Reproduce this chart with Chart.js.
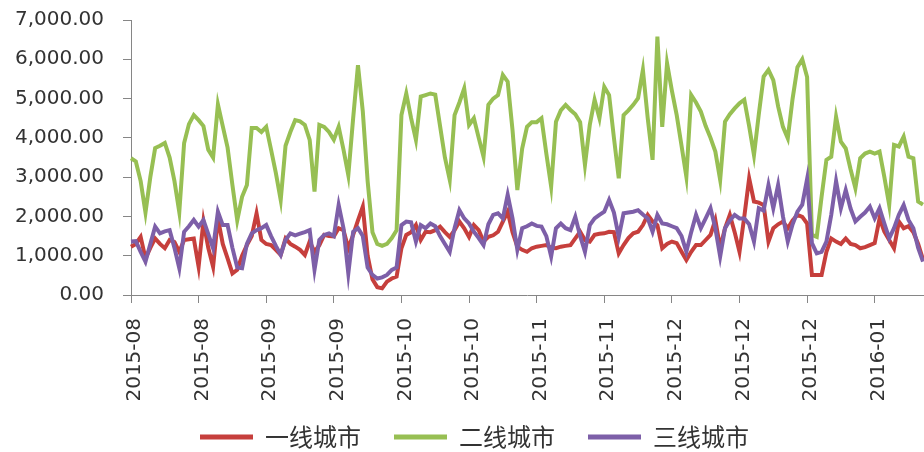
<!DOCTYPE html>
<html>
<head>
<meta charset="utf-8">
<script src="https://cdn.jsdelivr.net/npm/chart.js@4/dist/chart.umd.min.js"></script>
<style>
  html, body { margin: 0; padding: 0; background: #fff; }
  #wrap { width: 924px; height: 452px; position: relative; }
</style>
</head>
<body>
<div id="wrap"><canvas id="cityChart"></canvas></div>
<script>
// x axis shows one label every 14 daily points
const tickEvery = 14;
const tickLabels = ['2015-08', '2015-08', '2015-09', '2015-09', '2015-10', '2015-10',
                    '2015-11', '2015-11', '2015-12', '2015-12', '2015-12', '2016-01'];

const seriesNames = ['一线城市', '二线城市', '三线城市'];
const seriesColors = ['#c63f3c', '#97bf53', '#7d5fa8'];

const tier1 = [
    1230, 1300, 1480, 930, 1200, 1440, 1300, 1190, 1400, 1350, 1100, 1400, 1420, 1440,
    720, 1870, 1200, 720, 1950, 1300, 930, 550, 640, 1000, 1270, 1500, 2080, 1400,
    1300, 1270, 1150, 1020, 1440, 1300, 1230, 1150, 1020, 1360, 1100, 1270, 1530, 1500,
    1490, 1700, 1650, 1190, 1530, 1900, 2250, 1000, 400, 200, 170, 340, 420, 470,
    1190, 1530, 1600, 1780, 1400, 1610, 1600, 1650, 1740, 1600, 1480, 1650, 1870, 1700,
    1480, 1780, 1650, 1360, 1480, 1520, 1610, 1870, 2120, 1600, 1230, 1150, 1100, 1190,
    1230, 1250, 1270, 1200, 1190, 1230, 1250, 1270, 1440, 1610, 1400, 1360, 1530, 1560,
    1570, 1610, 1600, 1060, 1270, 1450, 1570, 1610, 1780, 2040, 1870, 1780, 1190, 1300,
    1360, 1320, 1100, 890, 1100, 1270, 1270, 1400, 1530, 1910, 1200, 1700, 2040, 1600,
    1100, 2000, 2970, 2380, 2350, 2290, 1360, 1700, 1800, 1870, 1700, 1900, 2040, 1990,
    1820, 510, 510, 510, 1100, 1440, 1360, 1300, 1440, 1300, 1270, 1190, 1220, 1270,
    1320, 1950, 1610, 1400, 1190, 1870, 1700, 1750, 1600, 1300, 900
];

const tier2 = [
    3480, 3400, 2900, 2100, 3000, 3740, 3800, 3870, 3500, 2900, 2110, 3870, 4350, 4580,
    4450, 4300, 3700, 3500, 4850, 4300, 3750, 2800, 1900, 2500, 2800, 4250, 4250, 4150,
    4280, 3700, 3100, 2420, 3800, 4150, 4450, 4420, 4330, 3950, 2630, 4330, 4280, 4150,
    3950, 4280, 3700, 3050, 4500, 5850, 4670, 2900, 1600, 1300, 1250, 1300, 1450, 1650,
    4580, 5130, 4500, 3950, 5050, 5090, 5130, 5100, 4300, 3500, 2930, 4580, 4900, 5260,
    4330, 4500, 4000, 3520, 4840, 5000, 5090, 5600, 5430, 4200, 2670, 3730, 4280, 4400,
    4400, 4500, 3600, 2760, 4410, 4700, 4840, 4710, 4600, 4400, 3310, 4330, 4970, 4500,
    5300, 5090, 4000, 2970, 4580, 4700, 4840, 5010, 5730, 4500, 3440, 6580, 4280, 5900,
    5200, 4580, 3800, 3010, 5090, 4900, 4670, 4300, 4000, 3650, 2930, 4410, 4600, 4750,
    4880, 4970, 4300, 3560, 4600, 5560, 5730, 5470, 4800, 4280, 3990, 5000, 5800, 6000,
    5550, 1530, 1480, 2500, 3440, 3520, 4540, 3900, 3730, 3200, 2720, 3480, 3600, 3650,
    3600, 3650, 3000, 2290, 3820, 3780, 4030, 3520, 3480, 2380, 2300
];

const tier3 = [
    1360, 1370, 1100, 850, 1300, 1740, 1570, 1620, 1650, 1200, 680, 1610, 1750, 1910,
    1740, 1910, 1550, 1190, 2120, 1780, 1780, 1200, 700, 680, 1300, 1570, 1650, 1700,
    1780, 1500, 1250, 1020, 1400, 1570, 1520, 1560, 1600, 1650, 640, 1400, 1530, 1570,
    1500, 2290, 1700, 550, 1610, 1700, 1500, 700, 510, 420, 450, 510, 640, 700,
    1780, 1870, 1850, 1360, 1780, 1700, 1820, 1750, 1500, 1300, 1100, 1700, 2160, 1950,
    1820, 1610, 1450, 1270, 1800, 2040, 2080, 1950, 2550, 1950, 1150, 1700, 1750, 1820,
    1760, 1740, 1500, 980, 1700, 1820, 1700, 1650, 1990, 1500, 1100, 1780, 1950, 2040,
    2120, 2420, 2100, 1480, 2080, 2100, 2120, 2160, 2050, 1950, 1610, 2040, 1820, 1800,
    1750, 1700, 1500, 1100, 1600, 2040, 1700, 1950, 2210, 1700, 980, 1700, 1900, 2040,
    1950, 1950, 1800, 1360, 2210, 2150, 2800, 2210, 2800, 2000, 1360, 1800, 2120, 2300,
    2950, 1320, 1060, 1100, 1360, 2040, 2900, 2210, 2670, 2200, 1870, 1990, 2100, 2250,
    1950, 2210, 1820, 1440, 1700, 2040, 2290, 1910, 1700, 1200, 850
];

const yMin = 0, yMax = 7000, yStep = 1000;

const axisColor = '#868686';
const textColor = '#333333';

const labels = tier1.map((v, i) => i % tickEvery === 0 ? tickLabels[i / tickEvery] : '');
const seriesData = [tier1, tier2, tier3];

// legend: smaller box, nudged right and placed a bit higher than chart.js would put it
const legendPlace = {
    id: 'legendPlace',
    beforeInit(chart) {
        const origFit = chart.legend.fit;
        chart.legend.fit = function() {
            origFit.call(this);
            this.height = 49;
        };
    },
    afterLayout(chart) {
        chart.legend.left += 26;
        chart.legend.top = 392;
    }
};

const ctx = document.getElementById('cityChart').getContext('2d');
new Chart(ctx, {
    type: 'line',
    data: {
        labels: labels,
        datasets: seriesData.map((d, k) => ({
            label: seriesNames[k],
            data: d,
            borderColor: seriesColors[k],
            backgroundColor: seriesColors[k],
            borderWidth: 4,
            pointRadius: 0,
            tension: 0,
            fill: false,
            order: 3 - k   // later series drawn on top, like the original
        }))
    },
    options: {
        responsive: true,
        maintainAspectRatio: false,
        animation: false,
        layout: { padding: { left: 0, right: 1, top: 20, bottom: 0 } },
        plugins: {
            tooltip: { enabled: false },
            legend: {
                position: 'bottom',
                labels: {
                    boxWidth: 53,
                    boxHeight: 5,
                    padding: 33,
                    color: textColor,
                    font: { family: "'Noto Sans CJK SC'", size: 24 },
                    sort: (a, b) => a.datasetIndex - b.datasetIndex,
                    generateLabels: function(chart) {
                        return Chart.defaults.plugins.legend.labels.generateLabels(chart)
                            .map(item => Object.assign(item, { lineWidth: 0 }));
                    }
                }
            }
        },
        scales: {
            x: {
                offset: false,
                grid: { drawOnChartArea: false, color: axisColor, tickLength: 8, offset: false },
                border: { color: axisColor },
                ticks: {
                    autoSkip: false,
                    maxRotation: 90,
                    minRotation: 90,
                    padding: 15,
                    labelOffset: 4,
                    color: textColor,
                    font: { family: 'DejaVu Sans', size: 20 },
                    callback: (v, i) => i % tickEvery === 0 ? tickLabels[i / tickEvery] : null
                },
                afterFit: s => { s.height = 108; }
            },
            y: {
                min: yMin,
                max: yMax,
                grid: { drawOnChartArea: false, color: axisColor, tickLength: 8 },
                border: { color: axisColor },
                ticks: {
                    stepSize: yStep,
                    padding: 19,
                    color: textColor,
                    font: { family: 'DejaVu Sans', size: 20 },
                    callback: v => v.toLocaleString('en-US', { minimumFractionDigits: 2, maximumFractionDigits: 2 })
                },
                afterFit: s => { s.width = 131; s.paddingTop = 0; }
            }
        }
    },
    plugins: [legendPlace]
});
</script>
</body>
</html>
